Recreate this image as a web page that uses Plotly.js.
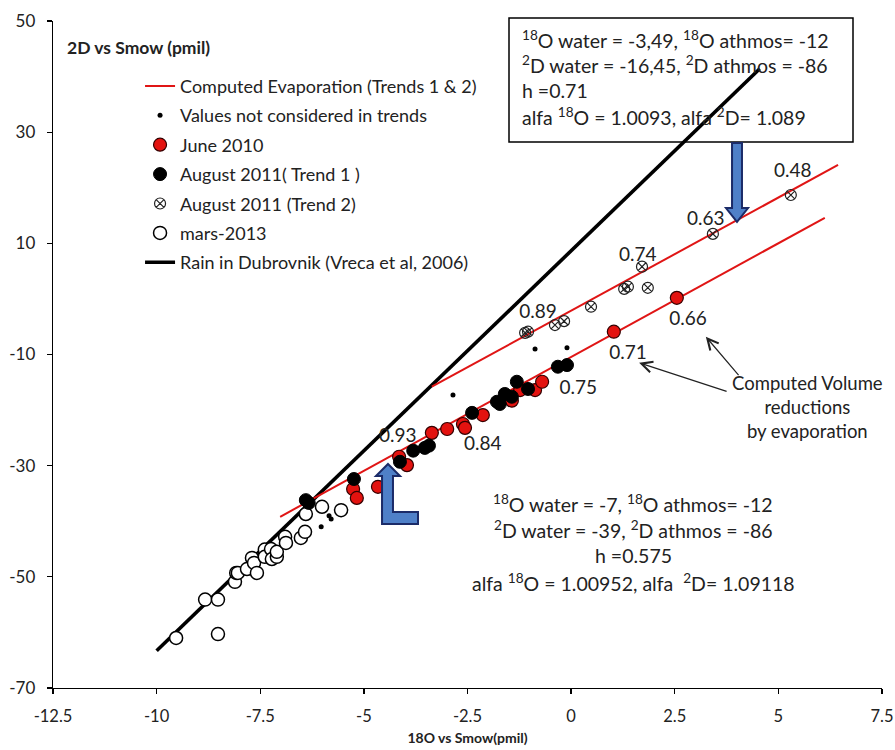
<!DOCTYPE html>
<html>
<head>
<meta charset="utf-8">
<script src="https://cdn.plot.ly/plotly-3.0.1.min.js"></script>
<style>html,body{margin:0;padding:0;background:#fff;}#chart{width:895px;height:750px;}</style>
</head>
<body>
<div id="chart"></div>
<script>
// ---- data ----
var rain_x = [-10, 4.55];
var rain_y = [-63.3, 41.4];

var evap1_x = [-7.02, 6.12];   // trend 1 (lower)
var evap1_y = [-39.2, 14.6];
var evap2_x = [-3.36, 6.44];   // trend 2 (upper)
var evap2_y = [-15.8, 24.1];

var other_x = [-6.03, -5.84, -5.79, -2.85, -0.87, -0.10];
var other_y = [-41.0, -39.0, -39.6, -17.3, -9.0, -8.8];

var june_x = [-5.26, -5.17, -4.66, -4.15, -3.96, -3.36, -2.99, -2.61, -2.56, -2.13, -1.43, -1.23, -0.87, -0.70, 1.03, 2.55];
var june_y = [-34.2, -35.8, -33.8, -28.4, -29.9, -24.1, -23.4, -22.5, -23.2, -20.9, -18.3, -16.4, -16.4, -14.9, -5.9, 0.2];

var aug1_x = [-6.40, -6.33, -5.24, -4.13, -3.81, -3.53, -3.43, -2.39, -1.79, -1.72, -1.60, -1.43, -1.31, -1.04, -0.32, -0.10];
var aug1_y = [-36.2, -36.7, -32.4, -29.3, -27.3, -26.8, -26.4, -20.5, -18.5, -18.9, -17.1, -17.6, -14.9, -16.2, -12.2, -11.9];

var aug2_x = [-1.11, -1.04, -0.39, -0.17, 0.48, 1.28, 1.37, 1.71, 1.85, 3.42, 5.30];
var aug2_y = [-6.1, -5.9, -4.7, -4.0, -1.4, 1.8, 2.2, 5.8, 2.0, 11.7, 18.7];

var mars_x = [-9.53, -8.52, -8.83, -8.52, -8.11, -8.08, -8.04, -7.82, -7.70, -7.65, -7.58, -7.39, -7.39, -7.24, -7.22, -7.10, -7.10, -6.90, -6.88, -6.52, -6.42, -6.40, -6.01, -5.55];
var mars_y = [-61.0, -60.3, -54.1, -54.1, -50.9, -49.3, -49.3, -48.6, -46.6, -47.5, -49.3, -45.1, -46.4, -45.0, -46.8, -46.4, -45.5, -42.8, -43.9, -43.0, -41.9, -38.7, -37.4, -38.0];

var vol_labels = ["0.93", "0.84", "0.75", "0.71", "0.66", "0.89", "0.74", "0.63", "0.48"];
var vol_x = [-4.18, -2.13, 0.17, 1.37, 2.82, -0.80, 1.61, 3.25, 5.35];
var vol_y = [-24.8, -26.4, -16.2, -9.9, -3.8, -2.5, 7.7, 14.2, 22.7];

var x_ticks = [-12.5, -10, -7.5, -5, -2.5, 0, 2.5, 5, 7.5];
var x_tick_text = ["-12.5", "-10", "-7.5", "-5", "-2.5", "0", "2.5", "5", "7.5"];
var y_ticks = [-70, -50, -30, -10, 10, 30, 50];
var y_tick_text = ["-70", "-50", "-30", "-10", "10", "30", "50"];

var boxTopLines = [
  '<sup>18</sup>O water = -3,49, <sup>18</sup>O athmos= -12',
  '<sup>2</sup>D water = -16,45, <sup>2</sup>D athmos = -86',
  'h =0.71',
  'alfa <sup>18</sup>O = 1.0093, alfa <sup>2</sup>D= 1.089'
];
var boxBottomLines = [
  '<sup>18</sup>O water = -7, <sup>18</sup>O athmos= -12',
  '<sup>2</sup>D water = -39, <sup>2</sup>D athmos = -86',
  'h =0.575',
  'alfa <sup>18</sup>O = 1.00952, alfa  <sup>2</sup>D= 1.09118'
];

// ---- layout helpers (decoration only) ----
var L = 53, R = 882, T = 21, B = 688;
function XP(px) { return (px - L) / (R - L); }
function YP(py) { return (B - py) / (B - T); }
function P(px, py) { return XP(px).toFixed(4) + ',' + YP(py).toFixed(4); }
function path(pts) { return 'M' + pts.map(function (p) { return P(p[0], p[1]); }).join(' L') + ' Z'; }

var FONT = 'Lato, "Open Sans", sans-serif';

var traces = [
  { x: rain_x, y: rain_y, mode: 'lines', name: 'Rain in Dubrovnik (Vreca et al, 2006)',
    line: { color: '#000', width: 3.6 }, legendrank: 7, legendgroup: 'g7' },
  { x: evap1_x, y: evap1_y, mode: 'lines', name: 'Computed Evaporation (Trends 1 & 2)',
    line: { color: '#e01515', width: 2 }, legendrank: 1, legendgroup: 'g1' },
  { x: evap2_x, y: evap2_y, mode: 'lines', name: 'Computed Evaporation (Trends 1 & 2)',
    line: { color: '#e01515', width: 2 }, showlegend: false, legendgroup: 'g1', legendrank: 1 },
  { x: other_x, y: other_y, mode: 'markers', name: 'Values not considered in trends',
    marker: { color: '#000', size: 5 }, legendrank: 2, legendgroup: 'g2' },
  { x: mars_x, y: mars_y, mode: 'markers', name: 'mars-2013',
    marker: { color: '#fff', size: 13, line: { color: '#000', width: 1.5 } }, legendrank: 6, legendgroup: 'g6' },
  { x: june_x, y: june_y, mode: 'markers', name: 'June 2010',
    marker: { color: '#e3120f', size: 13, line: { color: '#300', width: 1.2 } }, legendrank: 3, legendgroup: 'g3' },
  { x: aug1_x, y: aug1_y, mode: 'markers', name: 'August 2011( Trend 1 )',
    marker: { color: '#000', size: 13, line: { color: '#000', width: 1 } }, legendrank: 4, legendgroup: 'g4' },
  { x: aug2_x, y: aug2_y, mode: 'markers', name: 'August 2011 (Trend 2)',
    marker: { symbol: 'circle-x-open', color: '#222', size: 11, line: { width: 1.2 } }, legendrank: 5, legendgroup: 'g5' },
  { x: vol_x, y: vol_y, mode: 'text', text: vol_labels, showlegend: false, hoverinfo: 'skip',
    textfont: { family: FONT, size: 19, color: '#222' } }
];

var annotations = [
  { xref: 'paper', yref: 'paper', x: XP(65), y: YP(47), xanchor: 'left', yanchor: 'middle',
    text: '<b>2D vs Smow (pmil)</b>', showarrow: false, font: { family: FONT, size: 17.5, color: '#222' } },
  { xref: 'paper', yref: 'paper', x: XP(807), y: YP(407), xanchor: 'center', yanchor: 'middle',
    align: 'center', text: 'Computed Volume<br>reductions<br>by evaporation', showarrow: false,
    font: { family: FONT, size: 18.5, color: '#222' } },
  { x: 1.64, y: -11.5, ax: 89, ay: 29, text: '', showarrow: true, arrowhead: 5, arrowsize: 1.8,
    arrowwidth: 1.2, arrowcolor: '#222' },
  { x: 3.25, y: -6.8, ax: 34, ay: 40, text: '', showarrow: true, arrowhead: 5, arrowsize: 1.8,
    arrowwidth: 1.2, arrowcolor: '#222' }
];
var topRows = [39, 65, 91, 117];
boxTopLines.forEach(function (t, i) {
  annotations.push({ xref: 'paper', yref: 'paper', x: XP(520), y: YP(topRows[i]), xanchor: 'left', yanchor: 'middle',
    align: 'left', text: t, showarrow: false, font: { family: FONT, size: 19.5, color: '#222' } });
});
var botRows = [503, 529, 555, 582];
boxBottomLines.forEach(function (t, i) {
  annotations.push({ xref: 'paper', yref: 'paper', x: XP(633), y: YP(botRows[i]), xanchor: 'center', yanchor: 'middle',
    align: 'center', text: t, showarrow: false, font: { family: FONT, size: 19.5, color: '#222' } });
});

var layout = {
  width: 895, height: 750,
  margin: { l: L, r: 895 - R, t: T, b: 750 - B },
  paper_bgcolor: '#fff', plot_bgcolor: '#fff',
  font: { family: FONT, color: '#222' },
  showlegend: true,
  legend: { x: 0.105, y: 0.93, xanchor: 'left', yanchor: 'top', bgcolor: 'rgba(255,255,255,0)',
            font: { family: FONT, size: 18, color: '#222' }, tracegroupgap: 3, traceorder: 'grouped' },
  xaxis: { range: [-12.5, 7.5], tickmode: 'array', tickvals: x_ticks, ticktext: x_tick_text,
           showgrid: false, zeroline: false, showline: true, linecolor: '#000', linewidth: 1.3,
           ticks: 'outside', ticklen: 5, tickcolor: '#000', tickwidth: 1.3, ticklabelstandoff: 8,
           tickfont: { family: FONT, size: 16.5, color: '#222' },
           title: { text: '<b>18O vs Smow(pmil)</b>', font: { family: FONT, size: 14, color: '#222' }, standoff: 8 } },
  yaxis: { range: [-70, 50], tickmode: 'array', tickvals: y_ticks, ticktext: y_tick_text,
           showgrid: false, zeroline: false, showline: true, linecolor: '#000', linewidth: 1.3,
           ticks: 'outside', ticklen: 5, tickcolor: '#000', tickwidth: 1.3, ticklabelstandoff: 8,
           tickfont: { family: FONT, size: 17, color: '#222' } },
  shapes: [
    { type: 'rect', xref: 'paper', yref: 'paper', layer: 'below',
      x0: XP(509), x1: XP(853), y0: YP(142), y1: YP(18),
      line: { color: '#000', width: 1.5 }, fillcolor: '#fff' },
    { type: 'path', xref: 'paper', yref: 'paper',
      path: path([[732, 143], [742, 143], [742, 208], [748, 208], [737, 222], [726, 208], [732, 208]]),
      fillcolor: '#4f80c8', line: { color: '#1b2b68', width: 2 } },
    { type: 'path', xref: 'paper', yref: 'paper',
      path: path([[388, 464], [400, 476], [393, 476], [393, 512], [418, 512], [418, 524], [382, 524], [382, 476], [376, 476]]),
      fillcolor: '#4f80c8', line: { color: '#1b2b68', width: 2 } }
  ],
  annotations: annotations
};

Plotly.newPlot('chart', traces, layout, { displayModeBar: false, staticPlot: true });
</script>
</body>
</html>
